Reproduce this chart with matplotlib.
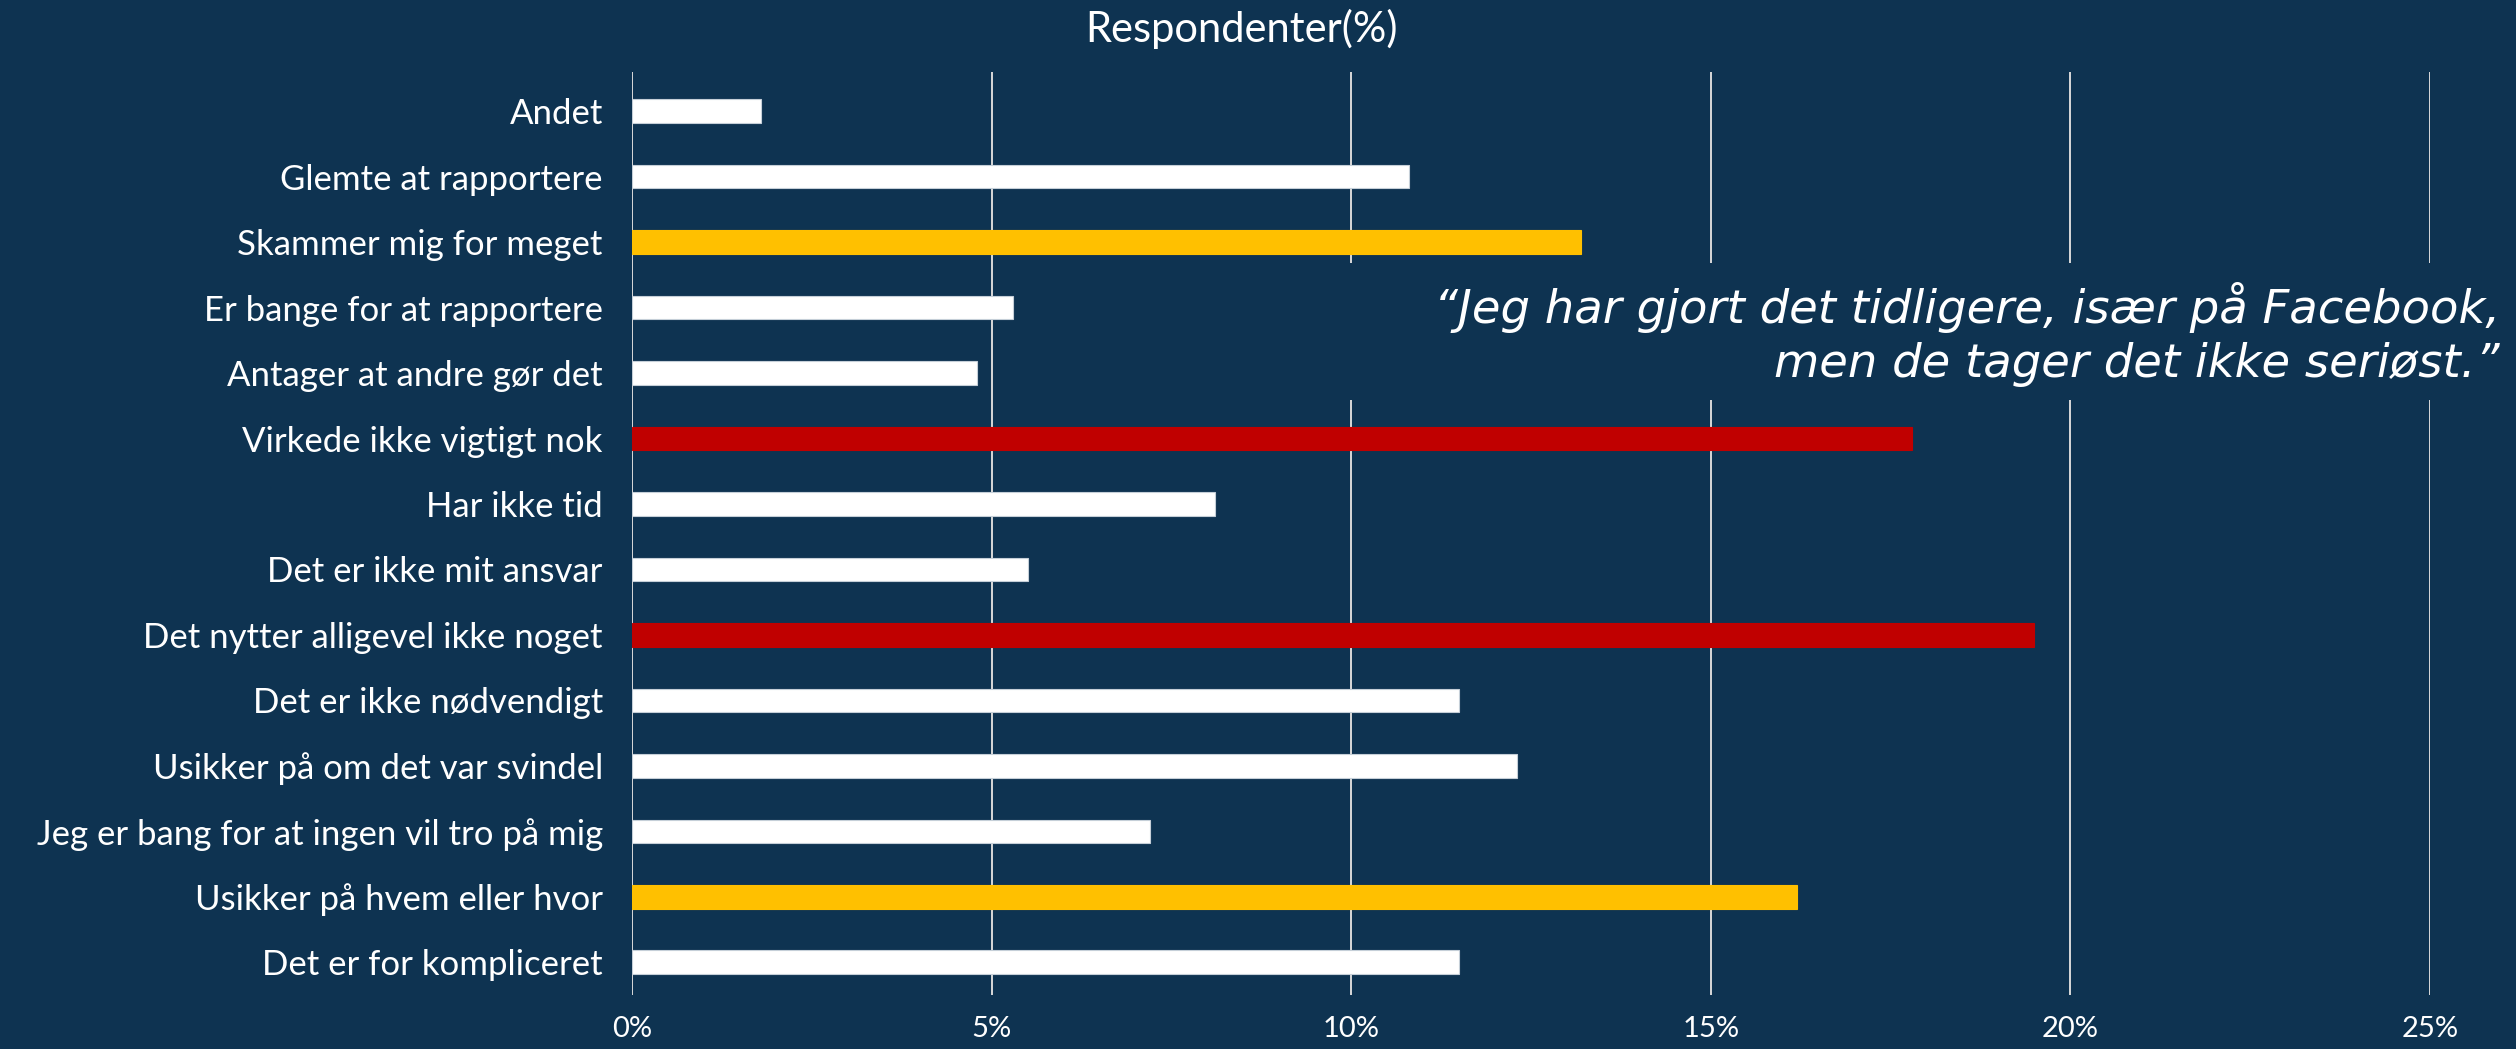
import matplotlib.pyplot as plt
from matplotlib.patches import Rectangle

# data (top to bottom as shown)
categories = ['Andet', 'Glemte at rapportere', 'Skammer mig for meget',
              'Er bange for at rapportere', 'Antager at andre gør det',
              'Virkede ikke vigtigt nok', 'Har ikke tid', 'Det er ikke mit ansvar',
              'Det nytter alligevel ikke noget', 'Det er ikke nødvendigt',
              'Usikker på om det var svindel', 'Jeg er bang for at ingen vil tro på mig',
              'Usikker på hvem eller hvor', 'Det er for kompliceret']
values = [1.8, 10.8, 13.2, 5.3, 4.8, 17.8, 8.1, 5.5, 19.5, 11.5, 12.3, 7.2, 16.2, 11.5]
highlight = ['n', 'n', 'y', 'n', 'n', 'r', 'n', 'n', 'r', 'n', 'n', 'n', 'y', 'n']
xticks = [0, 5, 10, 15, 20, 25]
quote = '\u201cJeg har gjort det tidligere, især på Facebook,\nmen de tager det ikke seriøst.\u201d'

BG = '#0E3351'
colors = {'n': 'white', 'y': '#FFC000', 'r': '#C00000'}

plt.rcParams['font.family'] = ['Lato', 'DejaVu Sans']

fig = plt.figure(figsize=(25.16, 10.49), dpi=100, facecolor=BG)
ax = fig.add_axes([0.2512, 0.0515, 0.7146, 0.8799])
ax.set_facecolor(BG)

ypos = list(range(len(categories)))
for y, v, h in zip(ypos, values, highlight):
    ec = '#C5CFD8' if h == 'n' else colors[h]
    ax.barh(y, v, height=0.36, color=colors[h], edgecolor=ec, linewidth=0.8, zorder=3)

ax.set_ylim(len(categories) - 0.5, -0.6)
ax.set_xlim(0, 25)
ax.set_yticks(ypos)
ax.set_yticklabels(categories, fontsize=25, color='white')
ax.set_xticks(xticks)
ax.set_xticklabels([f'{t}%' for t in xticks], fontsize=21, color='white')
ax.tick_params(axis='both', length=0)
ax.tick_params(axis='y', pad=21)
ax.tick_params(axis='x', pad=15)
for s in ax.spines.values():
    s.set_visible(False)
ax.set_axisbelow(True)
ax.grid(axis='x', color='#D9D9D9', linewidth=1.4, zorder=0.5)
ax.grid(axis='y', visible=False)

# background box behind the quote (hides gridlines)
ax.add_patch(Rectangle((0.391, 0.645), 0.66, 0.148, transform=ax.transAxes,
                       facecolor=BG, edgecolor='none', zorder=1, clip_on=False))
fig.text(0.9936, 0.681, quote, ha='right', va='center', fontsize=33.5, style='italic',
         family='DejaVu Sans', color='white', linespacing=1.25, zorder=5)

fig.text(0.4936, 0.972, 'Respondenter(%)', ha='center', va='center', fontsize=30,
         color='white')

fig.savefig('out.png', dpi=100, facecolor=BG)
